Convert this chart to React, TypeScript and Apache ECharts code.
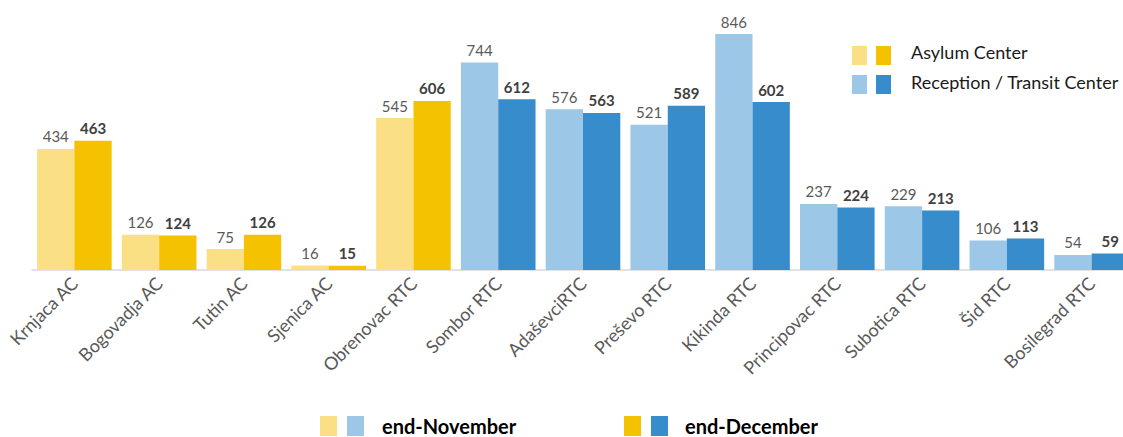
import React, { useEffect, useRef } from "react";
import * as echarts from "echarts";

const categories = [
  "Krnjaca AC", "Bogovadja AC", "Tutin AC", "Sjenica AC", "Obrenovac RTC",
  "Sombor RTC", "AdaševciRTC", "Preševo RTC", "Kikinda RTC", "Principovac RTC",
  "Subotica RTC", "Šid RTC", "Bosilegrad RTC",
];
const centerType = ["AC", "AC", "AC", "AC", "AC", "RTC", "RTC", "RTC", "RTC", "RTC", "RTC", "RTC", "RTC"];
const endNovember = [434, 126, 75, 16, 545, 744, 576, 521, 846, 237, 229, 106, 54];
const endDecember = [463, 124, 126, 15, 606, 612, 563, 589, 602, 224, 213, 113, 59];

const LIGHT_YELLOW = "#FADF85";
const YELLOW = "#F5C200";
const LIGHT_BLUE = "#9DC7E6";
const BLUE = "#378DCB";
const FONT = "Lato, 'Noto Sans', sans-serif";

export default function App() {
  const ref = useRef<HTMLDivElement>(null);
  useEffect(() => {
    if (!ref.current) return;
    const chart = echarts.init(ref.current, undefined, { renderer: "svg" });
    chart.setOption({
      animation: false,
      textStyle: { fontFamily: FONT },
      grid: {
        left: 32,
        top: 19,
        width: 1102,
        bottom: 167,
        containLabel: false,
        outerBoundsMode: "none",
      },
      xAxis: {
        type: "category",
        data: categories,
        axisLine: { show: true, lineStyle: { color: "#D9D9D9", width: 1.5 } },
        axisTick: { show: false },
        axisLabel: {
          rotate: 45,
          interval: 0,
          margin: 10,
          fontSize: 18,
          color: "#595959",
          fontFamily: FONT,
        },
      },
      yAxis: {
        type: "value",
        min: 0,
        max: 900,
        show: false,
        splitLine: { show: false },
      },
      series: [
        {
          name: "end-November",
          type: "bar",
          data: endNovember,
          barGap: "0%",
          barCategoryGap: "12%",
          itemStyle: {
            color: (p: any) => (centerType[p.dataIndex] === "AC" ? LIGHT_YELLOW : LIGHT_BLUE),
          },
          label: {
            show: true,
            position: "top",
            distance: 5,
            fontSize: 15,
            color: "#595959",
            fontFamily: FONT,
          },
        },
        {
          name: "end-December",
          type: "bar",
          data: endDecember,
          itemStyle: {
            color: (p: any) => (centerType[p.dataIndex] === "AC" ? YELLOW : BLUE),
          },
          label: {
            show: true,
            position: "top",
            distance: 5,
            fontSize: 15,
            fontWeight: "bold",
            color: "#404040",
            fontFamily: FONT,
          },
        },
      ],
      graphic: [
        { type: "rect", left: 852, top: 46, shape: { width: 15, height: 19 }, style: { fill: LIGHT_YELLOW } },
        { type: "rect", left: 876, top: 46, shape: { width: 15, height: 19 }, style: { fill: YELLOW } },
        { type: "text", left: 911, top: 43, style: { text: "Asylum Center", fontSize: 18, fill: "#1a1a1a", fontFamily: FONT } },
        { type: "rect", left: 852, top: 75, shape: { width: 15, height: 19 }, style: { fill: LIGHT_BLUE } },
        { type: "rect", left: 876, top: 75, shape: { width: 15, height: 19 }, style: { fill: BLUE } },
        { type: "text", left: 911, top: 73, style: { text: "Reception / Transit Center", fontSize: 18, fill: "#1a1a1a", fontFamily: FONT } },

        { type: "rect", left: 320, top: 416, shape: { width: 17, height: 20 }, style: { fill: LIGHT_YELLOW } },
        { type: "rect", left: 347, top: 416, shape: { width: 17, height: 20 }, style: { fill: LIGHT_BLUE } },
        { type: "text", left: 382, top: 416, style: { text: "end-November", fontSize: 20, fontWeight: "bold", fill: "#000", fontFamily: FONT } },
        { type: "rect", left: 624, top: 416, shape: { width: 17, height: 20 }, style: { fill: YELLOW } },
        { type: "rect", left: 651, top: 416, shape: { width: 17, height: 20 }, style: { fill: BLUE } },
        { type: "text", left: 685, top: 416, style: { text: "end-December", fontSize: 20, fontWeight: "bold", fill: "#000", fontFamily: FONT } },
      ],
    });
    return () => chart.dispose();
  }, []);
  return (
    <div
      ref={ref}
      style={{ position: "absolute", left: 0, top: 0, width: 1123, height: 437 }}
    />
  );
}
